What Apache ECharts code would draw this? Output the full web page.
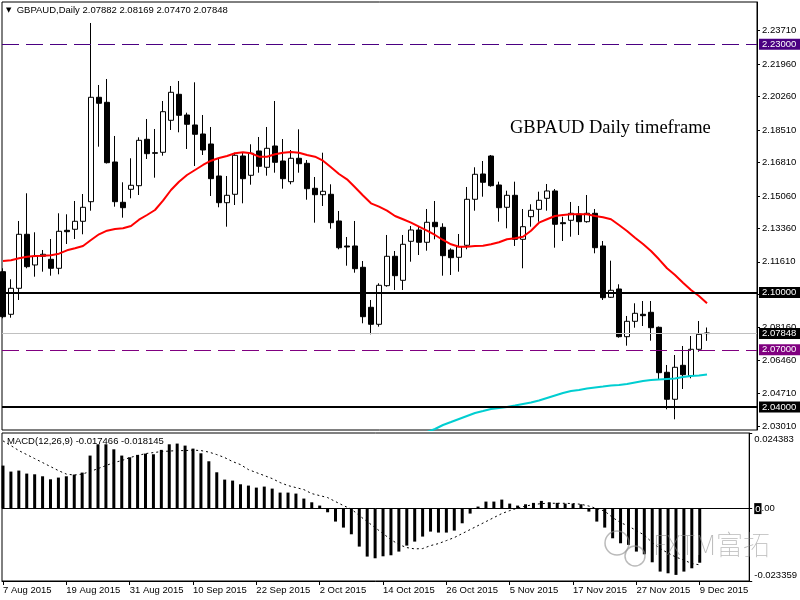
<!DOCTYPE html>
<html>
<head>
<meta charset="utf-8">
<script src="https://cdn.jsdelivr.net/npm/echarts@6/dist/echarts.min.js"></script>
<style>
html,body{margin:0;padding:0;background:#fff;}
#main{width:800px;height:600px;}
</style>
</head>
<body>
<div id="main"></div>
<script>
// ---------- DATA ----------
const dates = [
 "7 Aug 2015","10 Aug 2015","11 Aug 2015","12 Aug 2015","13 Aug 2015","14 Aug 2015","17 Aug 2015","18 Aug 2015","19 Aug 2015","20 Aug 2015",
 "21 Aug 2015","24 Aug 2015","25 Aug 2015","26 Aug 2015","27 Aug 2015","28 Aug 2015","31 Aug 2015","1 Sep 2015","2 Sep 2015","3 Sep 2015",
 "4 Sep 2015","7 Sep 2015","8 Sep 2015","9 Sep 2015","10 Sep 2015","11 Sep 2015","14 Sep 2015","15 Sep 2015","16 Sep 2015","17 Sep 2015",
 "18 Sep 2015","21 Sep 2015","22 Sep 2015","23 Sep 2015","24 Sep 2015","25 Sep 2015","28 Sep 2015","29 Sep 2015","30 Sep 2015","1 Oct 2015",
 "2 Oct 2015","5 Oct 2015","6 Oct 2015","7 Oct 2015","8 Oct 2015","9 Oct 2015","12 Oct 2015","13 Oct 2015","14 Oct 2015","15 Oct 2015",
 "16 Oct 2015","19 Oct 2015","20 Oct 2015","21 Oct 2015","22 Oct 2015","23 Oct 2015","26 Oct 2015","27 Oct 2015","28 Oct 2015","29 Oct 2015",
 "30 Oct 2015","2 Nov 2015","3 Nov 2015","4 Nov 2015","5 Nov 2015","6 Nov 2015","9 Nov 2015","10 Nov 2015","11 Nov 2015","12 Nov 2015",
 "13 Nov 2015","16 Nov 2015","17 Nov 2015","18 Nov 2015","19 Nov 2015","20 Nov 2015","23 Nov 2015","24 Nov 2015","25 Nov 2015","26 Nov 2015",
 "27 Nov 2015","30 Nov 2015","1 Dec 2015","2 Dec 2015","3 Dec 2015","4 Dec 2015","7 Dec 2015","8 Dec 2015","9 Dec 2015"
];
const dateLabels = ["7 Aug 2015","19 Aug 2015","31 Aug 2015","10 Sep 2015","22 Sep 2015","2 Oct 2015",
 "14 Oct 2015","26 Oct 2015","5 Nov 2015","17 Nov 2015","27 Nov 2015","9 Dec 2015"];

const opens = [
 2.11091,2.08860,2.10222,2.13049,2.11442,2.11897,2.11740,2.11269,2.13259,2.13311,
 2.13730,2.14756,2.20223,2.19961,2.16835,2.14725,2.15406,2.15594,2.18024,2.17322,
 2.17343,2.19019,2.20380,2.19296,2.18773,2.18301,2.17778,2.16102,2.14704,2.15144,
 2.17149,2.16139,2.17411,2.16558,2.17673,2.16887,2.15804,2.17029,2.16767,2.15458,
 2.15123,2.15144,2.13746,2.12437,2.12437,2.11321,2.09227,2.08336,2.10358,2.11897,
 2.10640,2.12683,2.13274,2.12630,2.13678,2.13416,2.12227,2.11845,2.12473,2.14882,
 2.16207,2.17149,2.15631,2.14463,2.15091,2.12787,2.13971,2.14358,2.14934,2.15317,
 2.13657,2.13782,2.14112,2.13709,2.14149,2.12437,2.09750,2.10185,2.07687,2.08493,
 2.08860,2.08965,2.08179,2.05823,2.04409,2.06189,2.05645,2.07027,2.07882
];
const highs = [
 2.11269,2.10693,2.13746,2.15196,2.13154,2.12227,2.12803,2.14149,2.14096,2.14793,
 2.15159,2.24114,2.20867,2.21181,2.18197,2.15772,2.17029,2.18128,2.19087,2.18563,
 2.20029,2.20815,2.21077,2.19417,2.21008,2.19296,2.18668,2.17045,2.16102,2.17322,
 2.17322,2.17762,2.18144,2.18668,2.20029,2.18039,2.17463,2.18547,2.16940,2.16050,
 2.17322,2.15667,2.14269,2.12908,2.13746,2.11651,2.09609,2.10483,2.13013,2.12175,
 2.13013,2.13484,2.13484,2.14374,2.14793,2.13625,2.12316,2.13065,2.15526,2.16558,
 2.16887,2.17202,2.15804,2.15332,2.15804,2.14374,2.14620,2.15280,2.15683,2.15421,
 2.13971,2.14741,2.14531,2.15107,2.14374,2.12698,2.11667,2.10431,2.08772,2.09436,
 2.09556,2.09556,2.08221,2.06205,2.06729,2.07200,2.07724,2.08509,2.08169
];
const lows = [
 2.08651,2.08682,2.09609,2.11269,2.10829,2.11091,2.10881,2.10954,2.12541,2.12803,
 2.13049,2.14285,2.17636,2.16757,2.14494,2.13918,2.14934,2.15107,2.16992,2.16013,
 2.17165,2.18511,2.18390,2.17516,2.16626,2.17202,2.15055,2.14463,2.13447,2.14583,
 2.14672,2.15646,2.16275,2.16118,2.16275,2.15437,2.15667,2.16275,2.14861,2.13657,
 2.14531,2.13342,2.12264,2.11405,2.11038,2.08389,2.07813,2.08211,2.10305,2.10132,
 2.10132,2.11614,2.11965,2.12190,2.12787,2.10881,2.10918,2.11091,2.12264,2.14285,
 2.15018,2.15542,2.13709,2.13363,2.12437,2.11269,2.13447,2.13709,2.14285,2.12347,
 2.12698,2.12923,2.13013,2.13657,2.12054,2.09609,2.09714,2.07635,2.07216,2.08158,
 2.08247,2.07478,2.05456,2.03885,2.03362,2.04948,2.05509,2.06902,2.07470
];
const closes = [
 2.08734,2.10222,2.13049,2.11353,2.11897,2.12002,2.11269,2.13206,2.13185,2.13730,
 2.14463,2.20223,2.19909,2.16798,2.14756,2.14442,2.15615,2.17971,2.17270,2.17291,
 2.19469,2.20485,2.19280,2.18809,2.18286,2.17463,2.15961,2.14704,2.15091,2.17186,
 2.15961,2.17291,2.16610,2.17552,2.16819,2.15961,2.17029,2.16746,2.15437,2.15123,
 2.15301,2.13657,2.12347,2.12384,2.11248,2.08734,2.08336,2.10379,2.11897,2.10881,
 2.12526,2.13274,2.12630,2.13678,2.13447,2.11929,2.11824,2.12400,2.14882,2.16191,
 2.15772,2.15594,2.14442,2.15091,2.12787,2.13447,2.14306,2.14830,2.15317,2.13573,
 2.13604,2.14149,2.13709,2.14149,2.12347,2.09729,2.10117,2.07687,2.08493,2.08912,
 2.08787,2.08158,2.05802,2.04409,2.06085,2.05697,2.07027,2.07813,2.07848
];
// red moving average (read per bar)
const maRed = [
 2.11651,2.11688,2.11792,2.11876,2.11913,2.11929,2.11950,2.12033,2.12211,2.12316,
 2.12437,2.12751,2.13049,2.13238,2.13327,2.13363,2.13484,2.13814,2.14060,2.14322,
 2.14809,2.15369,2.15804,2.16154,2.16416,2.16678,2.16903,2.17045,2.17149,2.17291,
 2.17343,2.17291,2.17113,2.17113,2.17238,2.17322,2.17359,2.17322,2.17202,2.17113,
 2.16903,2.16558,2.16207,2.15929,2.15510,2.15081,2.14672,2.14494,2.14285,2.14007,
 2.13835,2.13657,2.13447,2.13238,2.13013,2.12751,2.12526,2.12400,2.12400,2.12437,
 2.12452,2.12526,2.12630,2.12787,2.12840,2.12923,2.13238,2.13657,2.13835,2.14007,
 2.14060,2.14096,2.14096,2.14096,2.14007,2.13939,2.13835,2.13536,2.13222,2.12871,
 2.12541,2.12175,2.11740,2.11269,2.10918,2.10515,2.10132,2.09818,2.09436
];
// cyan long moving average, visible from bar 53 on
const maCyanStart = 53;
const maCyan = [
 2.02697,2.02854,2.03063,2.03220,2.03378,2.03535,2.03692,
 2.03796,2.03901,2.03954,2.04006,2.04084,2.04163,2.04242,2.04346,2.04477,2.04608,
 2.04739,2.04844,2.04896,2.04975,2.05027,2.05079,2.05132,2.05158,2.05210,2.05289,
 2.05367,2.05420,2.05446,2.05472,2.05498,2.05577,2.05629,2.05655,2.05708
];
const macdHist = [
 0.01387,0.01194,0.01226,0.01129,0.01106,0.01042,0.00945,0.01000,0.01042,0.01097,
 0.01161,0.01710,0.02074,0.02074,0.01913,0.01710,0.01655,0.01732,0.01774,0.01752,
 0.01894,0.02074,0.02097,0.02032,0.01935,0.01784,0.01526,0.01171,0.00935,0.00903,
 0.00784,0.00742,0.00677,0.00710,0.00645,0.00516,0.00516,0.00484,0.00323,0.00203,
 0.00097,-0.00119,-0.00419,-0.00613,-0.00829,-0.01226,-0.01548,-0.01603,-0.01539,-0.01506,
 -0.01387,-0.01194,-0.01065,-0.00903,-0.00742,-0.00774,-0.00774,-0.00710,-0.00474,-0.00161,
 0.00065,0.00226,0.00226,0.00290,0.00161,0.00097,0.00139,0.00184,0.00248,0.00203,
 0.00184,0.00161,0.00161,0.00139,-0.00097,-0.00419,-0.00613,-0.00958,-0.01119,-0.01171,
 -0.01387,-0.01474,-0.01732,-0.02032,-0.02087,-0.02139,-0.02032,-0.01926,-0.017466
];
const macdSignal = [
 0.02184,0.02032,0.01871,0.01742,0.01613,0.01484,0.01355,0.01226,0.01113,0.01081,
 0.01113,0.01194,0.01290,0.01387,0.01484,0.01548,0.01645,0.01710,0.01774,0.01806,
 0.01839,0.01855,0.01871,0.01871,0.01887,0.01871,0.01823,0.01742,0.01645,0.01516,
 0.01419,0.01258,0.01161,0.01065,0.00968,0.00839,0.00742,0.00677,0.00613,0.00484,
 0.00419,0.00355,0.00226,0.00097,-0.00016,-0.00226,-0.00419,-0.00613,-0.00806,-0.01000,
 -0.01161,-0.01258,-0.01300,-0.01290,-0.01194,-0.01129,-0.01032,-0.00935,-0.00806,-0.00677,
 -0.00548,-0.00419,-0.00290,-0.00161,-0.00065,0.00016,0.00081,0.00129,0.00161,0.00171,
 0.00171,0.00171,0.00161,0.00139,0.00081,0.00000,-0.00081,-0.00290,-0.00452,-0.00565,
 -0.00710,-0.00855,-0.01097,-0.01290,-0.01435,-0.01565,-0.01661,-0.01774,-0.018145
];
const priceTicks = [2.23710,2.21960,2.20260,2.18510,2.16810,2.15060,2.13360,2.11610,2.09910,2.08160,2.06460,2.04710,2.03010];
const priceRange = [2.02801, 2.25213];
const macdRange = [-0.023359, 0.024383];
const macdTicks = [0.024383, 0, -0.023359];
const dashedLevels = [2.23, 2.07];
const solidLevels = [2.10, 2.04];

// ---------- CHART ----------
const FONT = 'Liberation Sans';
const n = dates.length;
const lastIdx = n - 1;
const dateTickIdx = dateLabels.map(d => dates.indexOf(d));
const xMin = -0.125, xMax = 94.25;

const chart = echarts.init(document.getElementById('main'), null, {renderer: 'canvas'});

const header = 'GBPAUD,Daily ' + [opens[lastIdx], highs[lastIdx], lows[lastIdx], closes[lastIdx]].map(v => v.toFixed(5)).join(' ');
const macdHeader = 'MACD(12,26,9) ' + macdHist[lastIdx].toFixed(6) + ' ' + macdSignal[lastIdx].toFixed(6);

function levelLabel(bg) {
  return {show: true, position: 'end', distance: 2, color: '#fff', backgroundColor: bg,
          padding: [1, 5, 0, 3], fontSize: 9.5, fontFamily: FONT, lineHeight: 10,
          formatter: p => Number(p.value).toFixed(5)};
}
const levelColorsDashed = ['#4B0082', '#800080'];

const markLineData = [
  {yAxis: closes[lastIdx], lineStyle: {color: '#c0c0c0', width: 1, type: 'solid'}, label: levelLabel('#000')},
  ...dashedLevels.map((v, k) => ({yAxis: v, lineStyle: {color: levelColorsDashed[k], width: 1, type: [17, 7]}, label: levelLabel(levelColorsDashed[k])})),
  ...solidLevels.map(v => ({yAxis: v, lineStyle: {color: '#000', width: 2, type: 'solid'}, label: levelLabel('#000')}))
];

const option = {
  animation: false,
  backgroundColor: '#fff',
  textStyle: {fontFamily: FONT},
  title: [
    {text: '{t|▼}  ' + header, left: 6, top: 5, padding: 0,
     textStyle: {fontSize: 9.5, fontWeight: 'normal', color: '#000', fontFamily: FONT,
                 rich: {t: {fontSize: 7, color: '#000', fontFamily: 'DejaVu Sans'}}}},
    {text: 'GBPAUD Daily timeframe', left: 510, top: 119, padding: 0,
     textStyle: {fontFamily: 'Liberation Serif', fontSize: 18.5, fontWeight: 'normal', color: '#000'}},
    {text: macdHeader, left: 7, top: 436, padding: 0,
     textStyle: {fontSize: 9.5, fontWeight: 'normal', color: '#000', fontFamily: FONT}},
    {text: 'FXTM富拓', left: 653, top: 531, padding: 0,
     textStyle: {fontSize: 27, fontWeight: 'lighter', color: 'rgba(140,140,140,0.6)', fontFamily: 'Noto Sans CJK SC'}}
  ],
  graphic: [
    {type: 'circle', shape: {cx: 617, cy: 543, r: 12}, style: {fill: 'none', stroke: 'rgba(140,140,140,0.6)', lineWidth: 1.5}, z: 100},
    {type: 'circle', shape: {cx: 635, cy: 556, r: 10}, style: {fill: 'none', stroke: 'rgba(140,140,140,0.6)', lineWidth: 1.5}, z: 100}
  ],
  grid: [
    {left: 2, right: 43, top: 2, height: 428, show: true, borderColor: '#000', borderWidth: 1, backgroundColor: '#fff'},
    {left: 2, right: 43, top: 433, height: 148, show: true, borderColor: '#000', borderWidth: 1, backgroundColor: '#fff'}
  ],
  xAxis: [
    {type: 'value', gridIndex: 0, min: xMin, max: xMax, show: false},
    {type: 'value', gridIndex: 1, min: xMin, max: xMax,
     axisLine: {show: true, onZero: false, lineStyle: {color: '#000'}},
     axisTick: {show: true, customValues: dateTickIdx, length: 4, lineStyle: {color: '#000'}},
     axisLabel: {customValues: dateTickIdx, formatter: v => dates[Math.round(v)], align: 'left', margin: 4,
                 fontSize: 9.5, color: '#000', fontFamily: FONT},
     splitLine: {show: false}}
  ],
  yAxis: [
    {type: 'value', gridIndex: 0, position: 'right', min: priceRange[0], max: priceRange[1],
     splitLine: {show: false},
     axisLine: {show: true, onZero: false, lineStyle: {color: '#000'}},
     axisTick: {show: true, length: 3, customValues: priceTicks, lineStyle: {color: '#000'}},
     axisLabel: {customValues: priceTicks, formatter: v => v.toFixed(5), margin: 5, fontSize: 9.5, color: '#000', fontFamily: FONT}},
    {type: 'value', gridIndex: 1, position: 'right', min: macdRange[0], max: macdRange[1],
     splitLine: {show: false},
     axisLine: {show: true, onZero: false, lineStyle: {color: '#000'}},
     axisTick: {show: true, length: 3, customValues: macdTicks, lineStyle: {color: '#000'}},
     axisLabel: {customValues: macdTicks, margin: 5, fontSize: 9.5, color: '#000', fontFamily: FONT,
       formatter: v => v > 0 ? '{top|' + v.toFixed(6) + '}' : (v < 0 ? '{bot|' + v.toFixed(6) + '}' : '{z|0}.00'),
       rich: {top: {padding: [13, 0, 0, 0], fontSize: 9.5, color: '#000'},
              bot: {padding: [0, 0, 12, 0], fontSize: 9.5, color: '#000'},
              z: {backgroundColor: '#000', color: '#fff', padding: [1, 1, 0, 1], fontSize: 9.5}}}}
  ],
  series: [
    {type: 'candlestick', xAxisIndex: 0, yAxisIndex: 0, barWidth: 5,
     data: dates.map((d, i) => [i, opens[i], closes[i], lows[i], highs[i]]),
     itemStyle: {color: '#fff', color0: '#000', borderColor: '#000', borderColor0: '#000', borderColorDoji: '#000', borderWidth: 1},
     markLine: {silent: true, symbol: ['none', 'none'], precision: 6, animation: false, data: markLineData}},
    {type: 'line', xAxisIndex: 0, yAxisIndex: 0, symbol: 'none', z: 4,
     data: maRed.map((v, i) => [i, v]), lineStyle: {color: '#ff0000', width: 2}},
    {type: 'line', xAxisIndex: 0, yAxisIndex: 0, symbol: 'none', z: 4,
     data: maCyan.map((v, k) => [maCyanStart + k, v]), lineStyle: {color: '#00CED1', width: 2}},
    {type: 'bar', xAxisIndex: 1, yAxisIndex: 1, barWidth: 3,
     data: macdHist.map((v, i) => [i, v]), itemStyle: {color: '#000'},
     markLine: {silent: true, symbol: ['none', 'none'], precision: 6, animation: false, label: {show: false},
                data: [{yAxis: 0}], lineStyle: {color: '#000', width: 1, type: 'solid'}}},
    {type: 'line', xAxisIndex: 1, yAxisIndex: 1, symbol: 'none', z: 4,
     data: macdSignal.map((v, i) => [i, v]), lineStyle: {color: '#000', width: 1, type: [2, 3]}}
  ]
};
chart.setOption(option);
</script>
</body>
</html>
